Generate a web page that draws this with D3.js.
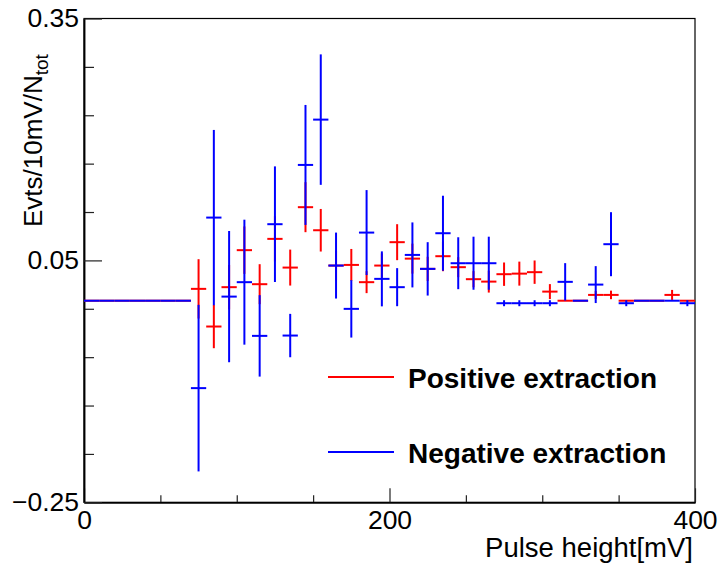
<!DOCTYPE html>
<html>
<head>
<meta charset="utf-8">
<script src="https://cdn.jsdelivr.net/npm/d3@7"></script>
<style>
body { margin: 0; background: #fff; }
text { font-family: "Liberation Sans", Arial, Helvetica, sans-serif; }
</style>
</head>
<body>
<script>
// 10 mV bins, centres in mV
var binCenters = [5, 15, 25, 35, 45, 55, 65, 75, 85, 95,
    105, 115, 125, 135, 145, 155, 165, 175, 185, 195,
    205, 215, 225, 235, 245, 255, 265, 275, 285, 295,
    305, 315, 325, 335, 345, 355, 365, 375, 385, 395];

var posValues = [0, 0, 0, 0, 0, 0, 0, 0.0147, -0.0320, 0.0168,
    0.0627, 0.0205, 0.0767, 0.0411, 0.1160, 0.0874, 0.0436, 0.0444, 0.0230, 0.0436,
    0.0726, 0.0522, 0.0395, 0.0552, 0.0416, 0.0267, 0.0237, 0.0329, 0.0336, 0.0354,
    0.0113, 0, 0, 0.0072, 0.0072, 0, 0, 0, 0.0072, 0];
var posErrors = [0, 0, 0, 0, 0, 0, 0, 0.0368, 0.0269, 0.0276,
    0.0294, 0.0248, 0.0281, 0.0223, 0.0310, 0.0264, 0.0186, 0.0198, 0.0136, 0.0150,
    0.0223, 0.0186, 0.0150, 0.0186, 0.0124, 0.0100, 0.0136, 0.0145, 0.0149, 0.0145,
    0.0093, 0, 0, 0.0050, 0.0053, 0, 0, 0, 0.0062, 0];

var negValues = [0, 0, 0, 0, 0, 0, 0, -0.1084, 0.1031, 0.0051,
    0.0230, -0.0436, 0.0949, -0.0432, 0.1684, 0.2246, 0.0436, -0.0101, 0.0845, 0.0271,
    0.0168, 0.0568, 0.0395, 0.0837, 0.0465, 0.0465, 0.0465, -0.0031, -0.0031, -0.0031,
    -0.0031, 0.0234, 0, 0.0200, 0.0701, -0.0031, 0, 0, 0, -0.0031];
var negErrors = [0, 0, 0, 0, 0, 0, 0, 0.1033, 0.1087, 0.0814,
    0.0775, 0.0505, 0.0717, 0.0269, 0.0744, 0.0809, 0.0409, 0.0356, 0.0527, 0.0341,
    0.0236, 0.0403, 0.0331, 0.0465, 0.0322, 0.0329, 0.0329, 0.0037, 0.0037, 0.0037,
    0.0037, 0.0232, 0, 0.0229, 0.0397, 0.0037, 0, 0, 0, 0.0037];

var xMajorTicks = [0, 200, 400];
var xMinorTicks = [50, 100, 150, 250, 300, 350];
var yMajorTicks = [-0.25, 0.05, 0.35];
var yMinorTicks = [-0.19, -0.13, -0.07, -0.01, 0.11, 0.17, 0.23, 0.29];
var legendLabels = ["Positive extraction", "Negative extraction"];
var seriesColors = ["#ff0000", "#0000ff"];

var binWidth = 10;

var margin = { top: 18.5, left: 84, right: 26, bottom: 63.7 },
    width = 721 - margin.left - margin.right,
    height = 566 - margin.top - margin.bottom;

var xScale = d3.scaleLinear().domain([0, 400]).range([0, width]);
var yScale = d3.scaleLinear().domain([-0.25, 0.35]).range([height, 0]);

var svg = d3.select("body").append("svg")
    .attr("width", 721)
    .attr("height", 566);

var canvas = svg.append("g")
    .attr("transform", "translate(" + margin.left + "," + margin.top + ")");

// frame
canvas.append("rect")
    .attr("width", width)
    .attr("height", height)
    .attr("fill", "none")
    .attr("stroke", "#000")
    .attr("stroke-width", 1.2);

// axes, ticks pointing inward
var xAxis = d3.axisBottom(xScale).tickValues(xMajorTicks)
    .tickSizeInner(-14).tickSizeOuter(0).tickPadding(8)
    .tickFormat(d3.format("d"));
var xMinor = d3.axisBottom(xScale).tickValues(xMinorTicks)
    .tickSizeInner(-7).tickSizeOuter(0).tickFormat("");
var yAxis = d3.axisLeft(yScale).tickValues(yMajorTicks)
    .tickSizeInner(-18).tickSizeOuter(0).tickPadding(5)
    .tickFormat(d3.format(".2f"));
var yMinor = d3.axisLeft(yScale).tickValues(yMinorTicks)
    .tickSizeInner(-10).tickSizeOuter(0).tickFormat("");

canvas.append("g").attr("transform", "translate(0," + height + ")").call(xMinor);
canvas.append("g").attr("transform", "translate(0," + height + ")").call(xAxis);
canvas.append("g").call(yMinor);
canvas.append("g").call(yAxis);

canvas.selectAll(".domain").attr("stroke", "#000").attr("stroke-width", 1.5);
canvas.selectAll(".tick line").attr("stroke", "#222").attr("stroke-width", 1.2);
canvas.selectAll(".tick text")
    .attr("font-family", "Liberation Sans, Arial, sans-serif")
    .attr("font-size", 26.5)
    .attr("fill", "#000");

// histograms with error bars
function drawSeries(values, errors, color) {
    var rows = binCenters.map(function (c, i) {
        return { x: c, v: values[i], e: errors[i] };
    });
    var g = canvas.append("g").attr("stroke", color).attr("stroke-width", 2);
    g.selectAll("line.h").data(rows).enter().append("line")
        .attr("x1", function (d) { return xScale(d.x - binWidth / 2); })
        .attr("x2", function (d) { return xScale(d.x + binWidth / 2); })
        .attr("y1", function (d) { return yScale(d.v); })
        .attr("y2", function (d) { return yScale(d.v); });
    g.selectAll("line.v").data(rows.filter(function (d) { return d.e > 0; })).enter().append("line")
        .attr("x1", function (d) { return xScale(d.x); })
        .attr("x2", function (d) { return xScale(d.x); })
        .attr("y1", function (d) { return yScale(d.v - d.e); })
        .attr("y2", function (d) { return yScale(d.v + d.e); });
}

drawSeries(posValues, posErrors, seriesColors[0]);
drawSeries(negValues, negErrors, seriesColors[1]);

// legend
var legendY = [377, 452];
legendLabels.forEach(function (label, i) {
    svg.append("line")
        .attr("x1", 328).attr("x2", 394)
        .attr("y1", legendY[i]).attr("y2", legendY[i])
        .attr("stroke", seriesColors[i]).attr("stroke-width", 2);
    svg.append("text")
        .attr("x", 408).attr("y", legendY[i] + 11)
        .attr("font-size", 28)
        .attr("font-weight", "bold")
        .text(label);
});

// axis titles
svg.append("text")
    .attr("x", 693).attr("y", 557)
    .attr("text-anchor", "end")
    .attr("font-size", 27.5)
    .text("Pulse height[mV]");

var yTitle = svg.append("text")
    .attr("transform", "translate(42,227) rotate(-90)")
    .attr("font-size", 26);
yTitle.append("tspan").text("Evts/10mV/N");
yTitle.append("tspan").attr("font-size", 19).attr("dy", 6).text("tot");
</script>
</body>
</html>
